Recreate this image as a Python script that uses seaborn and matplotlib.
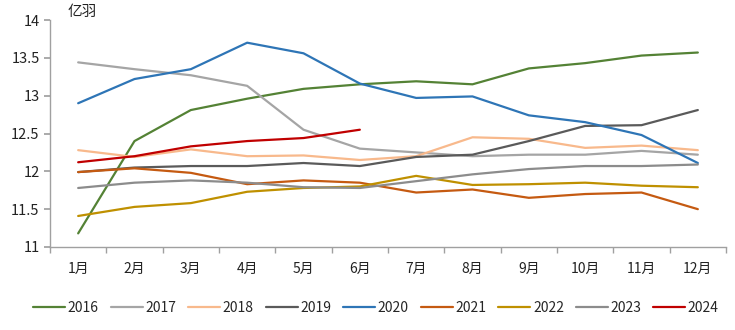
import matplotlib
matplotlib.use("Agg")
import matplotlib.pyplot as plt
import seaborn as sns
import pandas as pd

months = ["1月", "2月", "3月", "4月", "5月", "6月", "7月", "8月", "9月", "10月", "11月", "12月"]
years = ["2016", "2017", "2018", "2019", "2020", "2021", "2022", "2023", "2024"]

y2016 = [11.18, 12.40, 12.81, 12.96, 13.09, 13.15, 13.19, 13.15, 13.36, 13.43, 13.53, 13.57]
y2017 = [13.44, 13.35, 13.27, 13.13, 12.55, 12.30, 12.25, 12.20, 12.22, 12.22, 12.27, 12.22]
y2018 = [12.28, 12.19, 12.29, 12.20, 12.21, 12.15, 12.20, 12.45, 12.43, 12.31, 12.34, 12.28]
y2019 = [11.99, 12.05, 12.07, 12.07, 12.11, 12.07, 12.19, 12.22, 12.40, 12.60, 12.61, 12.81]
y2020 = [12.90, 13.22, 13.35, 13.70, 13.56, 13.16, 12.97, 12.99, 12.74, 12.65, 12.48, 12.11]
y2021 = [11.99, 12.04, 11.98, 11.83, 11.88, 11.85, 11.72, 11.76, 11.65, 11.70, 11.72, 11.50]
y2022 = [11.41, 11.53, 11.58, 11.73, 11.78, 11.80, 11.94, 11.82, 11.83, 11.85, 11.81, 11.79]
y2023 = [11.78, 11.85, 11.88, 11.85, 11.79, 11.78, 11.87, 11.96, 12.03, 12.07, 12.07, 12.09]
y2024 = [12.12, 12.20, 12.33, 12.40, 12.44, 12.55]

series = [y2016, y2017, y2018, y2019, y2020, y2021, y2022, y2023, y2024]
colors = ["#548235", "#a5a5a5", "#f8b98c", "#5a5a5a", "#2e75b6",
          "#c55a11", "#bf9000", "#8c8c8c", "#c00000"]

rows = []
for yr, vals in zip(years, series):
    for i, v in enumerate(vals):
        rows.append({"month": i + 1, "value": v, "year": yr})
df = pd.DataFrame(rows)

sns.set_theme(style="white")
plt.rcParams["font.family"] = ["Noto Sans CJK SC", "DejaVu Sans"]

fig = plt.figure(figsize=(7.35, 3.3), dpi=100)
ax = fig.add_axes([50 / 735, 1 - 247 / 330, 676 / 735, 227 / 330])

sns.lineplot(data=df, x="month", y="value", hue="year", hue_order=years,
             palette=colors, linewidth=1.6, ax=ax, legend=True)

ax.set_xlim(0.5, 12.5)
ax.set_ylim(11, 14)
ax.set_yticks([11, 11.5, 12, 12.5, 13, 13.5, 14])
ax.set_yticklabels(["11", "11.5", "12", "12.5", "13", "13.5", "14"])
ax.set_xticks(range(1, 13))
ax.set_xticklabels(months)
ax.set_xticks([i + 0.5 for i in range(0, 13)], minor=True)
ax.tick_params(axis="x", which="major", length=0, labelsize=10, pad=11, colors="#222222")
ax.tick_params(axis="x", which="minor", length=4, color="#a0a0a0", direction="out", bottom=True)
ax.tick_params(axis="y", which="major", length=4, color="#a0a0a0", direction="out", left=True,
               labelsize=10.5, colors="#222222")
ax.set_xlabel("")
ax.set_ylabel("")
for s in ["top", "right"]:
    ax.spines[s].set_visible(False)
for s in ["left", "bottom"]:
    ax.spines[s].set_color("#a0a0a0")
    ax.spines[s].set_linewidth(1)

fig.text(68 / 735, 1 - 12 / 330, "亿羽", fontsize=10.5, va="center", ha="left", color="#222222")

handles, labels = ax.get_legend_handles_labels()
ax.legend(handles, labels, loc="center", bbox_to_anchor=(0.5 - 12 / 676, (247 - 308) / 227),
          ncol=9, frameon=False, fontsize=10, handlelength=2.3, handletextpad=0.2,
          columnspacing=0.85, borderaxespad=0, borderpad=0)

fig.savefig("out.png", dpi=100)
